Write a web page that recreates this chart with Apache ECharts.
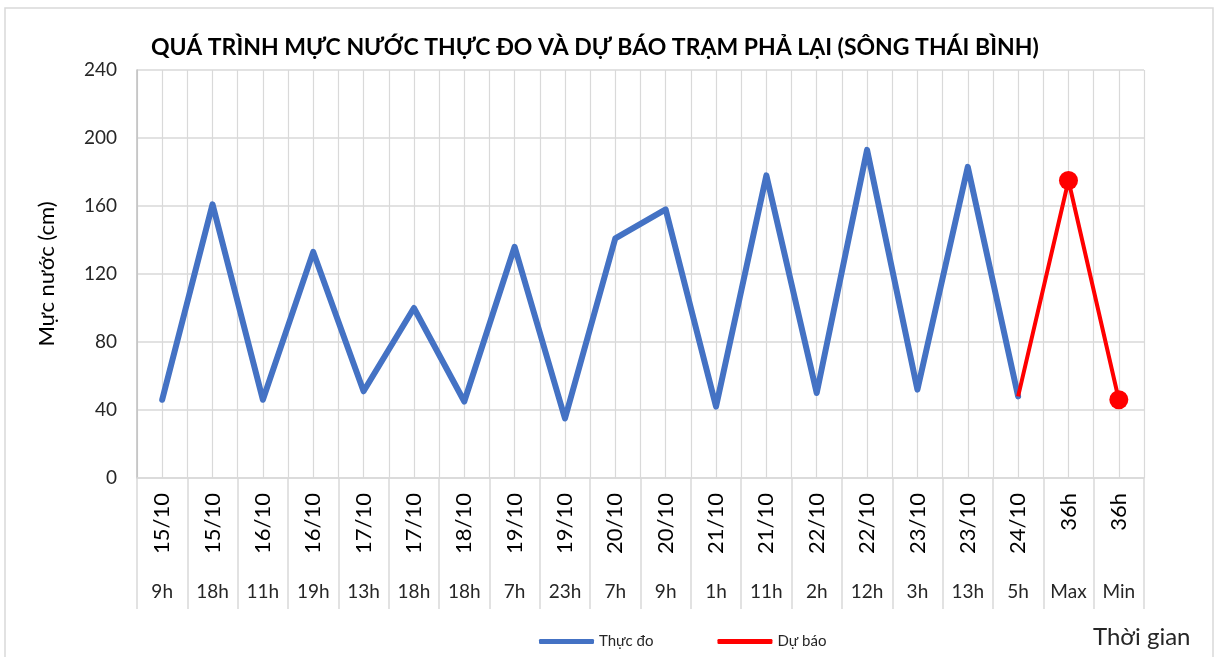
<!DOCTYPE html>
<html>
<head>
<meta charset="utf-8">
<script src="https://cdn.jsdelivr.net/npm/echarts@6/dist/echarts.min.js"></script>
<style>
html,body{margin:0;padding:0;background:#fff;}
#main{width:1217px;height:657px;}
</style>
</head>
<body>
<div id="main"></div>
<script>
const dates = ['15/10','15/10','16/10','16/10','17/10','17/10','18/10','19/10','19/10','20/10','20/10','21/10','21/10','22/10','22/10','23/10','23/10','24/10','36h','36h'];
const hours = ['9h','18h','11h','19h','13h','18h','18h','7h','23h','7h','9h','1h','11h','2h','12h','3h','13h','5h','Max','Min'];
const measured = [46,161,46,133,51,100,45,136,35,141,158,42,178,50,193,52,183,48,null,null];
const forecast = [null,null,null,null,null,null,null,null,null,null,null,null,null,null,null,null,null,48,175,46];
const yTicks = [0,40,80,120,160,200,240];

const cats = dates.map((d,i)=>d+'|'+hours[i]);
const FONT = 'Lato';
const forecastData = forecast.map((v,i)=> (v!==null && i>0 && forecast[i-1]===null) ? {value:v, symbol:'none'} : v);

const chart = echarts.init(document.getElementById('main'));
chart.setOption({
  backgroundColor:'#fff',
  animation:false,
  textStyle:{fontFamily:FONT},
  title:[
    {text:'QUÁ TRÌNH MỰC NƯỚC THỰC ĐO VÀ DỰ BÁO TRẠM PHẢ LẠI (SÔNG THÁI BÌNH)', left:146, top:31,
     textStyle:{fontFamily:FONT, fontWeight:'bold', fontSize:23, color:'#000'}},
    {text:'Thời gian', left:1088, top:620, textStyle:{fontFamily:FONT, fontWeight:'normal', fontSize:24, color:'#262626'}}
  ],
  legend:{
    top:629, left:534, itemWidth:55, itemHeight:5, itemGap:64,
    textStyle:{fontFamily:FONT, fontSize:15, color:'#262626'},
    data:[{name:'Thực đo', icon:'roundRect'},{name:'Dự báo', icon:'roundRect'}]
  },
  graphic:[{type:'rect', shape:{x:5,y:8,width:1208,height:660}, style:{fill:'none', stroke:'#D9D9D9', lineWidth:1.5}, silent:true}],
  grid:{left:137, right:73, top:70, bottom:179},
  xAxis:[
    {type:'category', data:cats, boundaryGap:true, position:'bottom',
     axisLine:{show:true, lineStyle:{color:'#D9D9D9', width:1.5}},
     axisTick:{show:true, interval:0, length:131, lineStyle:{color:'#D9D9D9', width:1.5}},
     axisLabel:{interval:0, margin:104, fontFamily:FONT, fontSize:19, color:'#262626',
       formatter:(v)=>v.split('|')[1]},
     splitLine:{show:false}},
    {type:'category', data:cats, boundaryGap:true, position:'bottom',
     axisLine:{show:false}, axisTick:{show:false},
     axisLabel:{interval:0, rotate:90, margin:15, fontFamily:FONT, fontSize:22, color:'#000',
       formatter:(v)=>v.split('|')[0]},
     splitLine:{show:false}},
    {type:'value', min:0, max:40, interval:1, position:'top',
     axisLine:{show:false}, axisTick:{show:false}, axisLabel:{show:false},
     splitLine:{show:true, lineStyle:{color:'#D9D9D9', width:1.2}}}
  ],
  yAxis:{
    type:'value', min:yTicks[0], max:yTicks[yTicks.length-1], interval:yTicks[1]-yTicks[0],
    name:'Mực nước (cm)', nameLocation:'middle', nameGap:79,
    nameTextStyle:{fontFamily:FONT, fontSize:22, color:'#000'},
    axisLine:{show:true, lineStyle:{color:'#BFBFBF', width:1.5}},
    axisTick:{show:false},
    axisLabel:{margin:20, fontFamily:FONT, fontSize:19, color:'#262626'},
    splitLine:{show:true, lineStyle:{color:'#D9D9D9', width:1.5}}
  },
  series:[
    {name:'Thực đo', type:'line', xAxisIndex:0, data:measured, symbol:'none',
     lineStyle:{color:'#4472C4', width:6, join:'round', cap:'round'}, itemStyle:{color:'#4472C4'}, z:3},
    {name:'Dự báo', type:'line', xAxisIndex:0, data:forecastData, symbol:'circle', symbolSize:19,
     lineStyle:{color:'#FF0000', width:4}, itemStyle:{color:'#FF0000'}, z:4}
  ]
});
</script>
</body>
</html>
